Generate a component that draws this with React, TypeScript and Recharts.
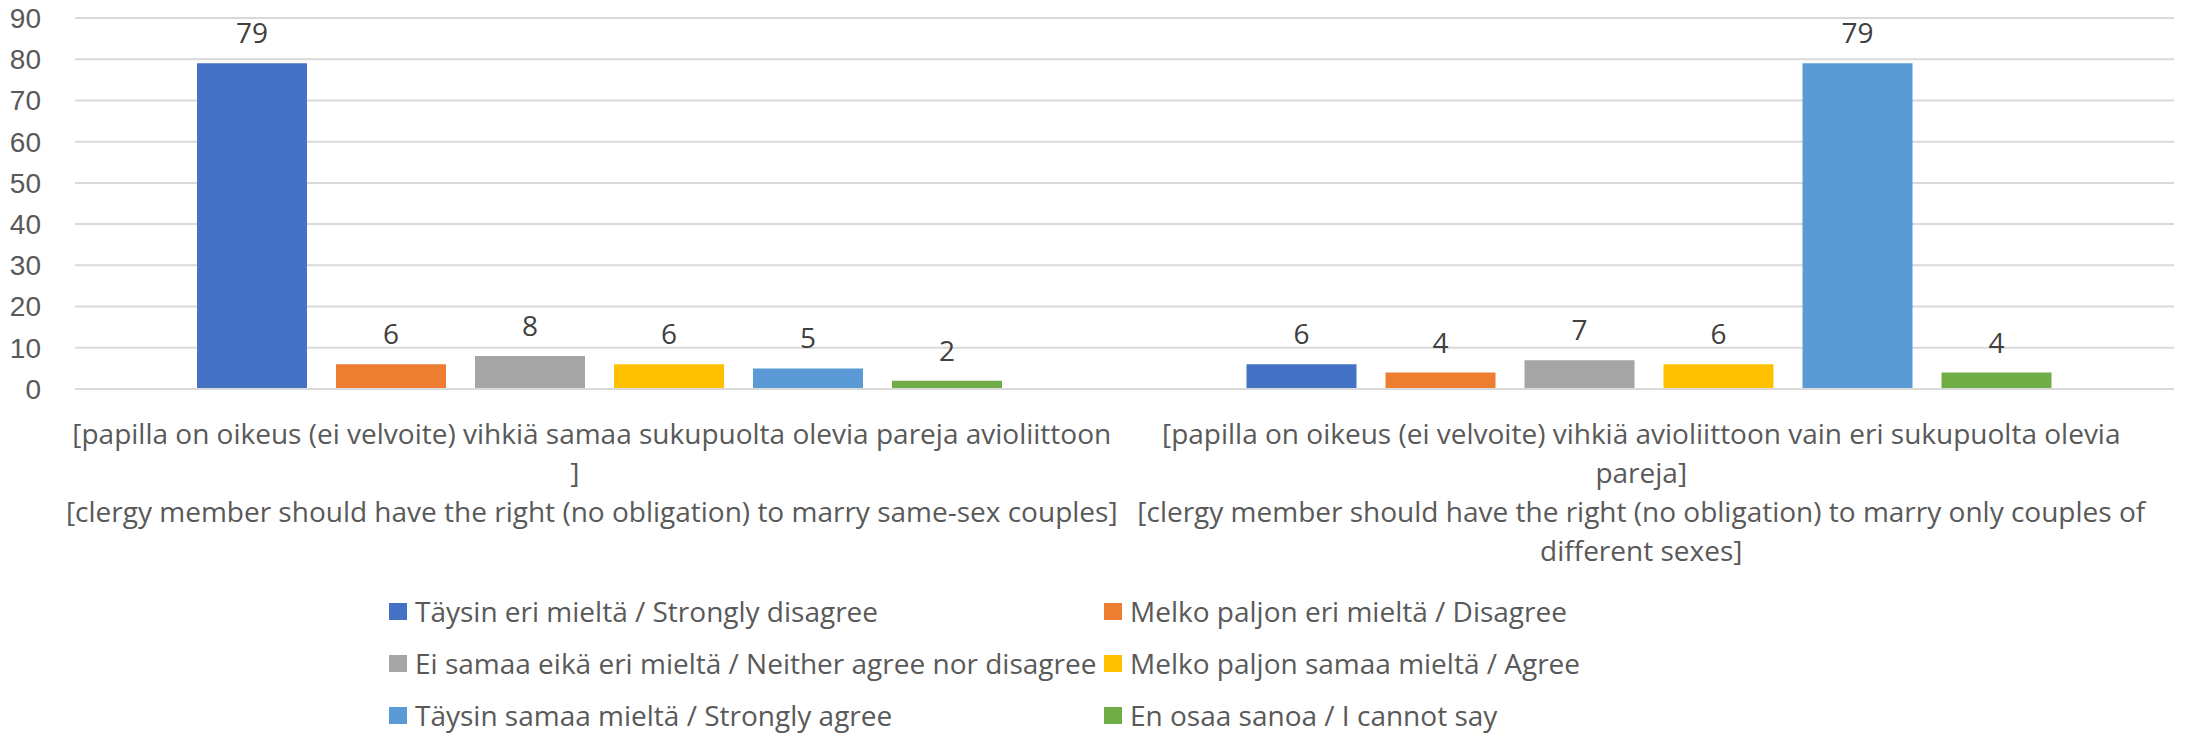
import React from "react";
import { BarChart, Bar, XAxis, YAxis, CartesianGrid, LabelList, Legend } from "recharts";

const CATEGORY_KEYS = ["sameSex", "differentSex"];

const CATEGORY_LINES = [
  [
    "[papilla on oikeus (ei velvoite) vihkiä samaa sukupuolta olevia pareja avioliittoon",
    "]",
    "[clergy member should have the right (no obligation) to marry same-sex couples]",
  ],
  [
    "[papilla on oikeus (ei velvoite) vihkiä avioliittoon vain eri sukupuolta olevia",
    "pareja]",
    "[clergy member should have the right (no obligation) to marry only couples of",
    "different sexes]",
  ],
];

const SERIES_NAMES = [
  "Täysin eri mieltä / Strongly disagree",
  "Melko paljon eri mieltä / Disagree",
  "Ei samaa eikä eri mieltä / Neither agree nor disagree",
  "Melko paljon samaa mieltä / Agree",
  "Täysin samaa mieltä / Strongly agree",
  "En osaa sanoa / I cannot say",
];

const STRONGLY_DISAGREE = [79, 6];
const DISAGREE = [6, 4];
const NEUTRAL = [8, 7];
const AGREE = [6, 6];
const STRONGLY_AGREE = [5, 79];
const CANNOT_SAY = [2, 4];

const SERIES_VALUES = [STRONGLY_DISAGREE, DISAGREE, NEUTRAL, AGREE, STRONGLY_AGREE, CANNOT_SAY];

const SERIES_COLORS = ["#4472C4", "#ED7D31", "#A5A5A5", "#FFC000", "#5B9BD5", "#70AD47"];

const Y_TICKS = [0, 10, 20, 30, 40, 50, 60, 70, 80, 90];

const FONT = "'Open Sans', sans-serif";
const TICK_FONT = "'Liberation Sans', 'Open Sans', sans-serif";
const TEXT = "#595959";

const data = CATEGORY_KEYS.map((key, i) => {
  const row: Record<string, string | number> = { key };
  SERIES_VALUES.forEach((vals, s) => {
    row[`s${s}`] = vals[i];
  });
  return row;
});

function CategoryTick(props: any) {
  const { x, y, index } = props;
  const lines = CATEGORY_LINES[index] ?? [];
  return (
    <text x={x - 8} y={y + 47} textAnchor="middle" fill={TEXT} fontSize={28} fontFamily={FONT}>
      {lines.map((line, i) => (
        <tspan key={i} x={line === "]" ? x - 25 : x - 8} dy={i === 0 ? 0 : 39}>
          {line}
        </tspan>
      ))}
    </text>
  );
}

function LegendBox() {
  return (
    <div
      style={{
        display: "grid",
        gridTemplateColumns: "715px 700px",
        paddingLeft: 389,
        fontFamily: FONT,
        fontSize: 28,
        color: TEXT,
        height: 151,
        boxSizing: "border-box",
        paddingTop: 1,
      }}
    >
      {SERIES_NAMES.map((name, i) => (
        <div key={name} style={{ display: "flex", alignItems: "center", height: 52, whiteSpace: "nowrap" }}>
          <span
            style={{
              display: "inline-block",
              width: 18,
              height: 17,
              background: SERIES_COLORS[i],
              marginRight: 8,
            }}
          />
          {name}
        </div>
      ))}
    </div>
  );
}

export default function App() {
  return (
    <div style={{ position: "absolute", left: 0, top: 0, background: "#fff" }}>
      <BarChart
        width={2188}
        height={735}
        data={data}
        margin={{ top: 18, right: 14, left: 0, bottom: 0 }}
        barGap={29}
        barSize={110}
      >
        <CartesianGrid vertical={false} stroke="#d9d9d9" strokeWidth={2} />
        <XAxis
          dataKey="key"
          axisLine={{ stroke: "#d9d9d9", strokeWidth: 2 }}
          tickLine={false}
          height={195}
          interval={0}
          tick={<CategoryTick />}
        />
        <YAxis
          domain={[0, 90]}
          ticks={Y_TICKS}
          width={75}
          axisLine={false}
          tickLine={false}
          tickMargin={28}
          tick={{ fill: TEXT, fontSize: 28, fontFamily: TICK_FONT }}
        />
        <Legend verticalAlign="bottom" content={<LegendBox />} wrapperStyle={{ left: 0, width: 2188 }} />
        {SERIES_NAMES.map((name, s) => (
          <Bar key={name} dataKey={`s${s}`} name={name} fill={SERIES_COLORS[s]} isAnimationActive={false}>
            <LabelList
              dataKey={`s${s}`}
              position="top"
              offset={20}
              fill="#404040"
              fontSize={28}
              fontFamily={FONT}
            />
          </Bar>
        ))}
      </BarChart>
    </div>
  );
}
